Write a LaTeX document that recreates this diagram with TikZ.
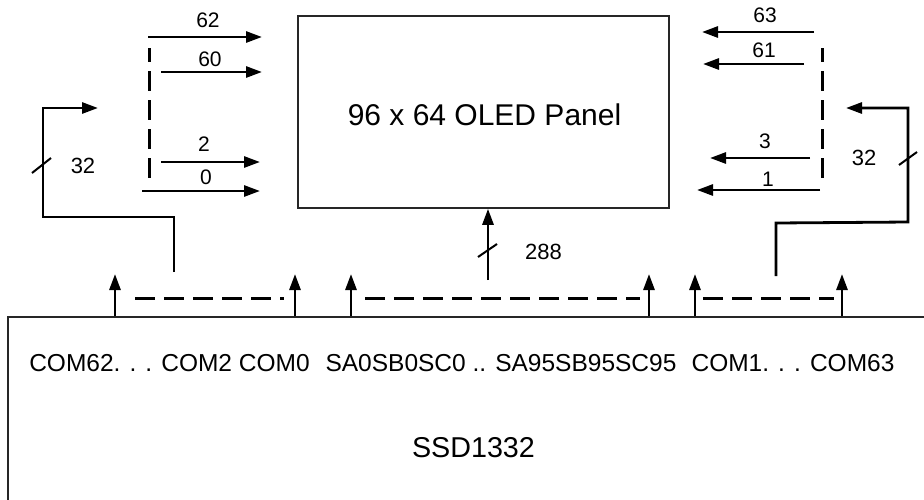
\documentclass[tikz,border=0pt]{standalone}
\usepackage{fontspec}
\setmainfont{Liberation Sans}
\usetikzlibrary{arrows.meta}
\begin{document}
\begin{tikzpicture}[x=1pt,y=-1pt,
  wire/.style={line width=2.8pt},
  arr/.style={wire,-{Triangle[length=16pt,width=11pt]}},
  dashline/.style={line width=3pt,dash pattern=on 20pt off 9pt},
  lbl/.style={inner sep=0pt,anchor=base,font=\fontsize{21}{24}\selectfont},
  chiptxt/.style={inner sep=0pt,anchor=base,font=\fontsize{24.5}{29}\selectfont}]
\useasboundingbox (0,0) rectangle (924,499);
\fill[white] (0,0) rectangle (924,499);
% panel
\node[draw=black!85,line width=1.6pt,minimum width=371pt,minimum height=192pt,inner sep=0pt] (panel) at (483.5,112) {};
\node[inner sep=0pt,anchor=base,font=\fontsize{30}{36}\selectfont] (ptxt) at (484.5,125) {96 x 64 OLED Panel};
% chip
\begin{scope}
\clip (0,0) rectangle (924,499);
\node[draw=black!85,line width=2pt,minimum width=932pt,minimum height=203pt,inner sep=0pt] (chip) at (474,418.5) {};
\end{scope}
\node[chiptxt] (t1) at (169.5,371) {COM62. . . COM2 COM0};
\node[chiptxt] (t2) at (501,371) {SA0SB0SC0 .. SA95SB95SC95};
\node[chiptxt] (t3) at (793,371) {COM1. . . COM63};
\node[inner sep=0pt,anchor=base,font=\fontsize{28.7}{34}\selectfont] (chipname) at (473.5,457) {SSD1332};
% left row arrows
\coordinate (l62s) at (148,37);  \coordinate (l62e) at (262,37);
\coordinate (l60s) at (161,72);  \coordinate (l60e) at (262,72);
\coordinate (l2s) at (161,162);  \coordinate (l2e) at (260,162);
\coordinate (l0s) at (142,191);  \coordinate (l0e) at (260,191);
\draw[arr] (l62s) -- (l62e);
\draw[arr] (l60s) -- (l60e);
\draw[arr] (l2s) -- (l2e);
\draw[arr] (l0s) -- (l0e);
\node[lbl] (n62) at (208,27) {62};
\node[lbl] (n60) at (210,66) {60};
\node[lbl] (n2) at (204,151) {2};
\node[lbl] (n0) at (206,184) {0};
\coordinate (ldt) at (149,48); \coordinate (ldb) at (149,181);
\draw[dashline,dash phase=6pt] (ldt) -- (ldb);
% right row arrows
\coordinate (r63s) at (814,32);  \coordinate (r63e) at (702,32);
\coordinate (r61s) at (804,64);  \coordinate (r61e) at (703,64);
\coordinate (r3s) at (810,158);  \coordinate (r3e) at (710,158);
\coordinate (r1s) at (820,190);  \coordinate (r1e) at (697,190);
\draw[arr] (r63s) -- (r63e);
\draw[arr] (r61s) -- (r61e);
\draw[arr] (r3s) -- (r3e);
\draw[arr] (r1s) -- (r1e);
\node[lbl] (n63) at (765,22) {63};
\node[lbl] (n61) at (764,57) {61};
\node[lbl] (n3) at (765,148) {3};
\node[lbl] (n1) at (768,186) {1};
\coordinate (rdt) at (822,48); \coordinate (rdb) at (822,181);
\draw[dashline,dash phase=6pt] (rdt) -- (rdb);
% left bus
\coordinate (lb0) at (174,272);
\coordinate (lb1) at (174,217);
\coordinate (lb2) at (43,217);
\coordinate (lb3) at (43,108);
\coordinate (lb4) at (98,108);
\draw[arr] (lb0) -- (lb1) -- (lb2) -- (lb3) -- (lb4);
\coordinate (ls1) at (32,173); \coordinate (ls2) at (51,158);
\draw[line width=2pt] (ls1) -- (ls2);
\node[lbl,font=\fontsize{22}{26}\selectfont] (n32l) at (83,173) {32};
% right bus
\coordinate (rb0) at (776,276);
\coordinate (rb1) at (776,223);
\coordinate (rb2) at (908,222);
\coordinate (rb3) at (908,108);
\coordinate (rb4) at (846,108);
\draw[arr] (rb0) -- (rb1) -- (rb2) -- (rb3) -- (rb4);
\coordinate (rs1) at (899,165); \coordinate (rs2) at (917,152);
\draw[line width=2pt] (rs1) -- (rs2);
\node[lbl,font=\fontsize{22}{26}\selectfont] (n32r) at (864,165) {32};
% middle bus
\coordinate (m0) at (488,280);
\draw[arr] (m0) -- (panel.south -| m0);
\coordinate (ms1) at (478,257); \coordinate (ms2) at (497,244);
\draw[line width=2pt] (ms1) -- (ms2);
\node[lbl,font=\fontsize{22}{26}\selectfont] (n288) at (543.5,259) {288};
% bottom up arrows
\foreach \x/\n in {115/u1,295/u2,351/u3,649/u4,695/u5,842/u6}{
  \coordinate (\n) at (\x,274);
  \draw[arr] (chip.north -| \n) -- (\n);
}
% dashed horizontals
\coordinate (h1a) at (135,298); \coordinate (h1b) at (284,298);
\coordinate (h2a) at (365,298); \coordinate (h2b) at (640,298);
\coordinate (h3a) at (703,298); \coordinate (h3b) at (834,298);
\draw[dashline] (h1a) -- (h1b);
\draw[dashline] (h2a) -- (h2b);
\draw[dashline] (h3a) -- (h3b);
\end{tikzpicture}
\end{document}
